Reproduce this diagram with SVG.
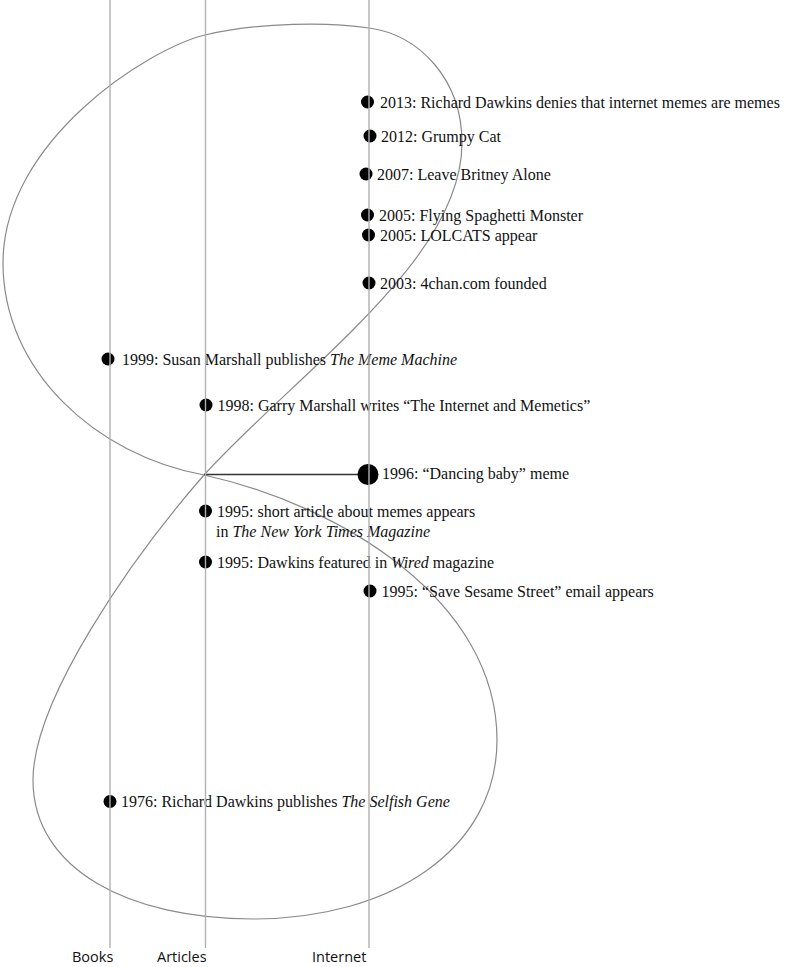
<svg xmlns="http://www.w3.org/2000/svg" width="785" height="967" viewBox="0 0 785 967">
<style>
.lbl{font-family:"Liberation Serif","Times New Roman",serif;font-size:16px;fill:#111}
.it{font-style:italic}
.axis{stroke:#b0b0b0;stroke-width:1.4;fill:none}
.axlbl{font-family:"Open Sans","Noto Sans",sans-serif;font-size:14.5px;fill:#111}
.dot{fill:#000}
.curve{fill:none;stroke:#8a8a8a;stroke-width:1.2}
.link{stroke:#333;stroke-width:1.4;fill:none}
</style>
<rect width="785" height="967" fill="#fff"/>
<g id="connectors">
<path class="curve" d="M204,475 C340,505 497,600 497,740 C497,850 390,919 253,919 C130,919 33,870 33,780 C33,700 130,560 204,475 C300,370 462,260 462,143 C462,80 420,35 369,28 C330,22 260,22 205,35 C150,48 3,140 3,263 C3,370 95,455 204,475 Z"/>
<line class="link" x1="204" y1="474.5" x2="368" y2="474.5"/>
</g>
<g id="n2013"><circle class="dot" cx="367.5" cy="102" r="6.5"/><text class="lbl" x="380" y="108">2013: Richard Dawkins denies that internet memes are memes</text></g>
<g id="n2012"><circle class="dot" cx="370" cy="136" r="6.5"/><text class="lbl" x="381" y="142">2012: Grumpy Cat</text></g>
<g id="n2007"><circle class="dot" cx="366" cy="174" r="6.5"/><text class="lbl" x="377" y="180">2007: Leave Britney Alone</text></g>
<g id="n2005a"><circle class="dot" cx="367.5" cy="215" r="6.5"/><text class="lbl" x="379" y="221">2005: Flying Spaghetti Monster</text></g>
<g id="n2005b"><circle class="dot" cx="368.5" cy="235" r="6.5"/><text class="lbl" x="380" y="241">2005: LOLCATS appear</text></g>
<g id="n2003"><circle class="dot" cx="369" cy="283" r="6.5"/><text class="lbl" x="380" y="289">2003: 4chan.com founded</text></g>
<g id="n1999"><circle class="dot" cx="108" cy="359" r="6.5"/><text class="lbl" x="122" y="365">1999: Susan Marshall publishes <tspan class="it">The Meme Machine</tspan></text></g>
<g id="n1998"><circle class="dot" cx="206" cy="405" r="6.5"/><text class="lbl" x="217.5" y="411">1998: Garry Marshall writes “The Internet and Memetics”</text></g>
<g id="n1996"><circle class="dot" cx="368" cy="474.5" r="10.5"/><text class="lbl" x="382" y="479">1996: “Dancing baby” meme</text></g>
<g id="n1995a"><circle class="dot" cx="205.5" cy="511" r="6.5"/><text class="lbl" x="217" y="517">1995: short article about memes appears</text><text class="lbl" x="216" y="536.5">in <tspan class="it">The New York Times Magazine</tspan></text></g>
<g id="n1995b"><circle class="dot" cx="205.5" cy="562" r="6.5"/><text class="lbl" x="217" y="568">1995: Dawkins featured in <tspan class="it">Wired</tspan> magazine</text></g>
<g id="n1995c"><circle class="dot" cx="370" cy="591" r="6.5"/><text class="lbl" x="381.5" y="597">1995: “Save Sesame Street” email appears</text></g>
<g id="n1976"><circle class="dot" cx="110" cy="801.5" r="6.5"/><text class="lbl" x="121" y="807">1976: Richard Dawkins publishes <tspan class="it">The Selfish Gene</tspan></text></g>
<g id="axes">
<line class="axis" x1="110" y1="0" x2="110" y2="948"/>
<line class="axis" x1="205.5" y1="0" x2="205.5" y2="948"/>
<line class="axis" x1="369" y1="0" x2="369" y2="948"/>
<text class="axlbl" x="72" y="962">Books</text>
<text class="axlbl" x="157" y="962">Articles</text>
<text class="axlbl" x="312" y="962">Internet</text>
</g>
</svg>
